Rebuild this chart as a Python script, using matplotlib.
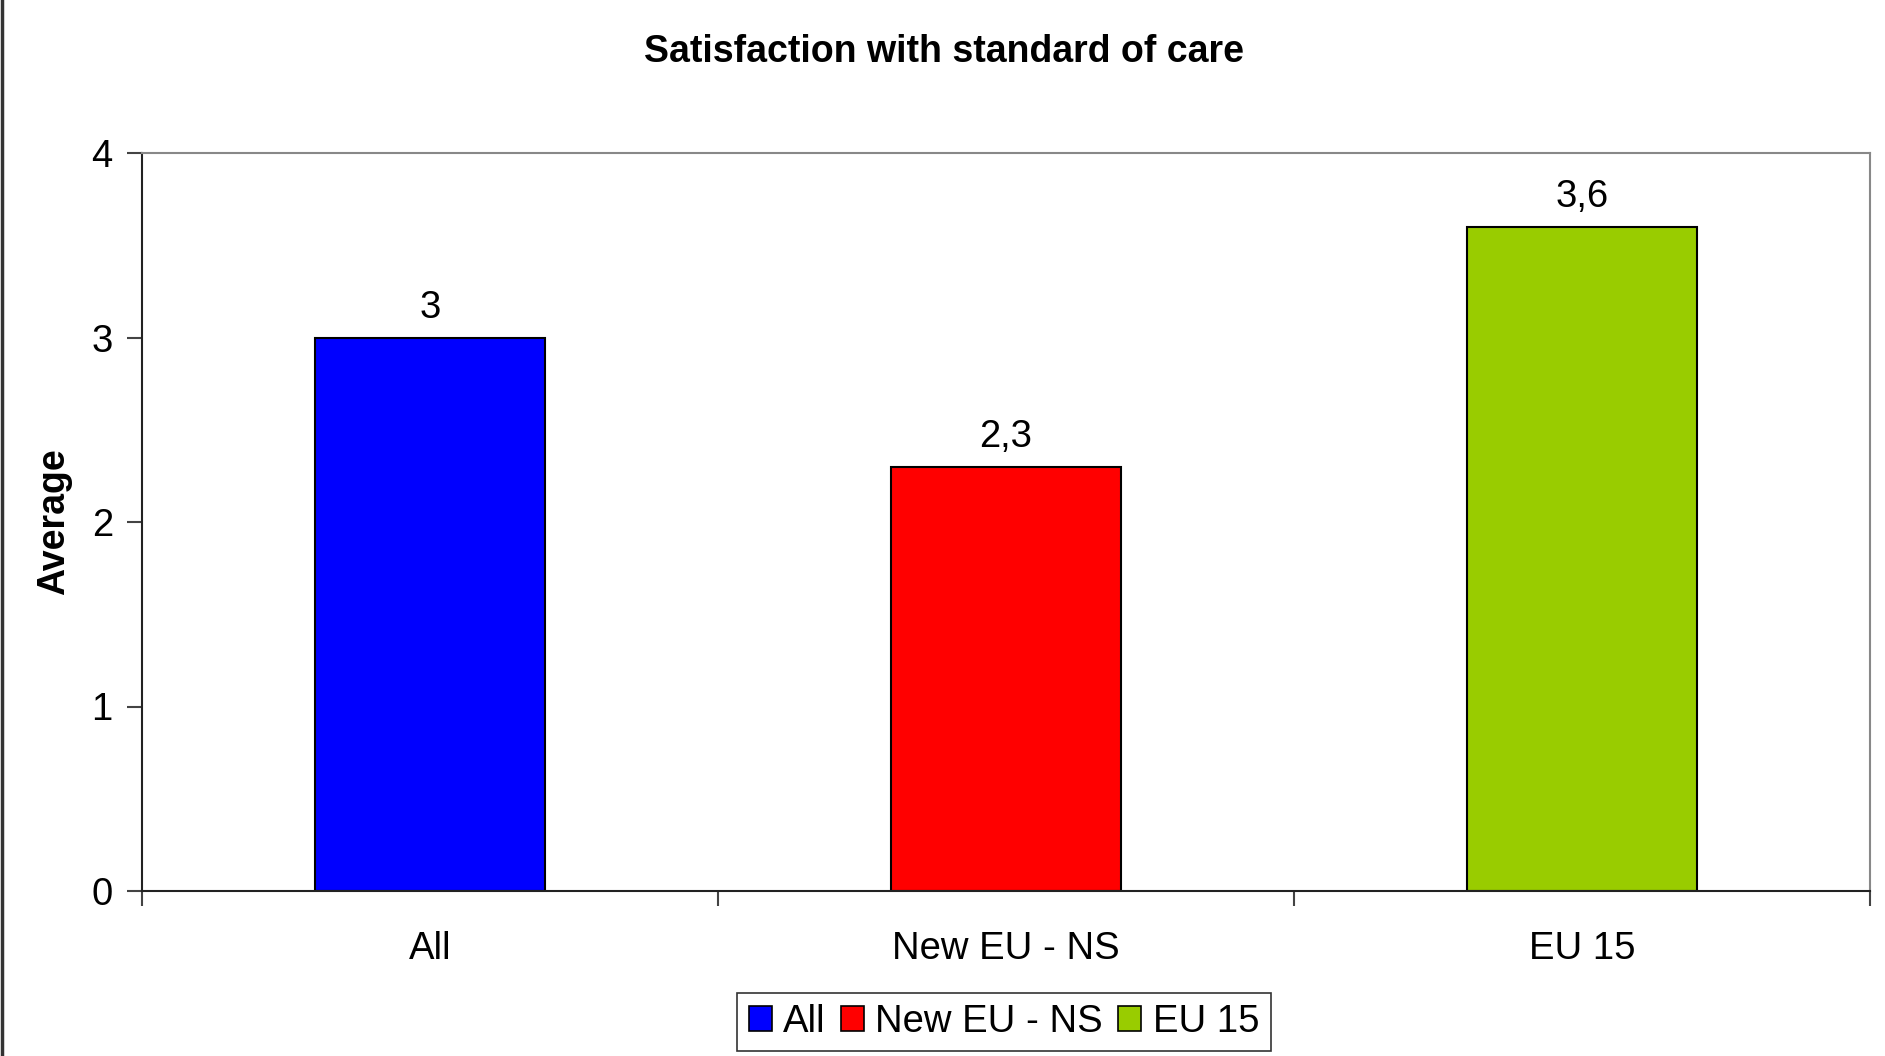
import matplotlib
matplotlib.use("Agg")
import matplotlib.pyplot as plt
from matplotlib.lines import Line2D
from matplotlib.patches import Patch

plt.rcParams['font.family'] = ['Liberation Sans', 'DejaVu Sans']

categories = ["All", "New EU - NS", "EU 15"]
averages = [3.0, 2.3, 3.6]
value_labels = ["3", "2,3", "3,6"]
bar_colors = ["#0000ff", "#ff0000", "#99cc00"]
yticks = [0, 1, 2, 3, 4]

fig = plt.figure(figsize=(18.85, 10.56), dpi=100)
ax = fig.add_axes([142 / 1885, 1 - 891 / 1056, (1870 - 142) / 1885, (891 - 153) / 1056])

x = range(len(categories))
bars = ax.bar(x, averages, width=0.4, color=bar_colors, edgecolor="black", linewidth=1.5)

for rect, lab in zip(bars, value_labels):
    ax.annotate(lab, (rect.get_x() + rect.get_width() / 2, rect.get_height()),
                xytext=(0, 8.5), textcoords="offset points",
                ha="center", va="bottom", fontsize=27.5)

ax.set_xlim(-0.5, len(categories) - 0.5)
ax.set_ylim(0, 4)
ax.set_yticks(yticks)
ax.set_yticklabels([str(t) for t in yticks])

# category labels in the middle, tick marks on the boundaries
ax.set_xticks(list(x))
ax.set_xticklabels(categories)
ax.set_xticks([i - 0.5 for i in range(len(categories) + 1)], minor=True)
ax.tick_params(axis="x", which="major", length=0, pad=28.5, labelsize=27.5)
ax.tick_params(axis="x", which="minor", length=11, width=1.5, color="#444444")
ax.tick_params(axis="y", length=11, width=1.5, color="#444444", labelsize=27.5, pad=10)

for side in ("left", "bottom"):
    ax.spines[side].set_color("#222222")
    ax.spines[side].set_linewidth(1.5)
for side in ("top", "right"):
    ax.spines[side].set_color("#888888")
    ax.spines[side].set_linewidth(1.5)

ax.set_ylabel("Average", fontsize=27, fontweight="bold", labelpad=14)
fig.text(944 / 1885, 1 - 52 / 1056, "Satisfaction with standard of care",
         ha="center", va="center", fontsize=27, fontweight="bold")

handles = [Patch(facecolor=c, edgecolor="black", linewidth=1.2) for c in bar_colors]
leg = fig.legend(handles, categories, loc="center", bbox_to_anchor=(1004 / 1885, 1 - 1022 / 1056),
                 ncol=3, fontsize=27.5, frameon=True, fancybox=False, framealpha=1,
                 handlelength=0.6, handleheight=0.6, handletextpad=0.3, columnspacing=0.4,
                 borderpad=0.3, borderaxespad=0)
leg.get_frame().set_edgecolor("#333333")
leg.get_frame().set_linewidth(1.2)

# dark border line on the left edge of the figure
fig.add_artist(Line2D([0.0008, 0.0008], [0, 1], transform=fig.transFigure, color="#333333", linewidth=2.5))

fig.savefig("out.png", dpi=100)
